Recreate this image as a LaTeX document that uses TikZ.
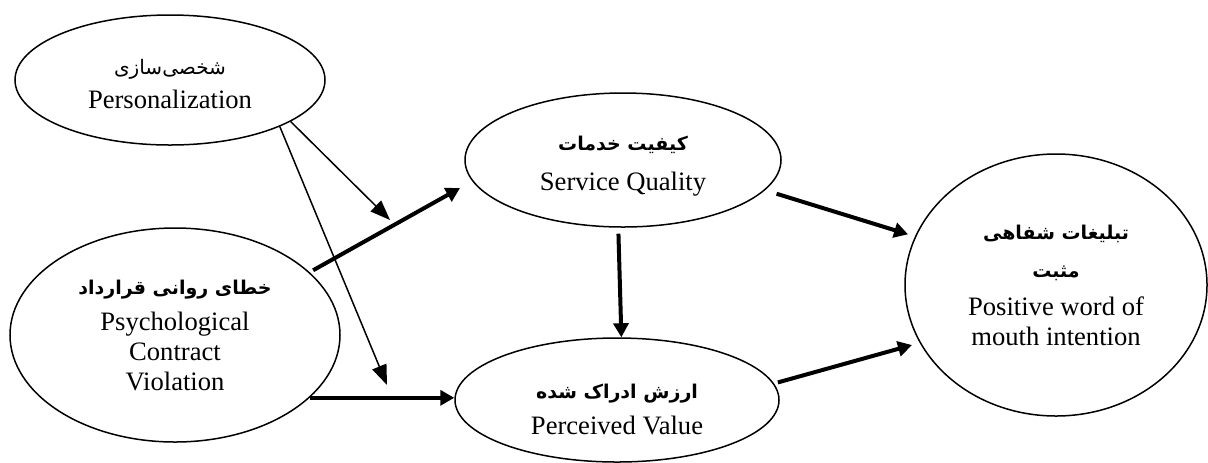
\documentclass[tikz,border=0pt]{standalone}
\usepackage{fontspec}
\setmainfont{Liberation Serif}
\newfontfamily\farsi[Script=Arabic]{DejaVu Sans}
\TeXXeTstate=1
\usetikzlibrary{shapes.geometric,arrows.meta}
\newcommand{\faBold}[1]{{\farsi\bfseries\fontsize{9.5}{15}\selectfont\beginR #1\endR}}
\newcommand{\faReg}[1]{{\farsi\fontsize{10}{15}\selectfont\beginR #1\endR}}

\begin{document}
\begin{tikzpicture}[x=0.5pt,y=-0.5pt]
\tikzstyle{construct}=[ellipse,draw,line width=0.75pt,inner sep=0pt,align=center,font=\fontsize{13.3}{15}\selectfont]
\tikzstyle{effect}=[line width=2pt,-{Triangle[length=7pt,width=7.5pt]}]
\tikzstyle{moderate}=[line width=0.75pt,-{Triangle[length=10pt,width=7.5pt]}]

\useasboundingbox (0,0) rectangle (1208,462);

%constructs.
\node[construct,minimum width=155pt,minimum height=65pt] (pers) at (170,80) {\rule{0pt}{12pt}\faReg{شخصی‌سازی}\\[2pt] Personalization};
\node[construct,minimum width=165pt,minimum height=107pt] (pcv) at (175,335) {\faBold{خطای روانی قرارداد}\\[3pt] Psychological\\ Contract\\ Violation};
\node[construct,minimum width=158pt,minimum height=67pt] (sq) at (623,160) {\rule{0pt}{13pt}\faBold{کیفیت خدمات}\\[5pt] Service Quality};
\node[construct,minimum width=162pt,minimum height=62pt] (pv) at (617,400) {\rule{0pt}{17pt}\faBold{ارزش ادراک شده}\\[3pt] Perceived Value};
\node[construct,minimum width=151pt,minimum height=131pt] (wom) at (1056,285) {\faBold{تبلیغات شفاهی}\\[4pt] \faBold{مثبت}\\[4pt] Positive word of\\ mouth intention};

%moderation points.
\coordinate (modSQ) at (390,220);
\coordinate (modPV) at (387,385);

\draw[moderate] (pers.-19) -- (modSQ);
\draw[moderate] (pers.-23) -- (modPV);

\draw[effect,shorten <=2pt,shorten >=7pt] (pcv.25) -- (sq.188);
\draw[effect] (pcv.-25) -- (pcv.-25 -| pv.west);
\draw[effect,shorten <=3pt] (sq.266) -- (pv.86);
\draw[effect,shorten <=6pt,shorten >=3.6pt] (sq.-12) -- (wom.161);
\draw[effect,shorten <=2pt,shorten >=4pt] (pv.6) -- (wom.203);

\end{tikzpicture}
\end{document}
